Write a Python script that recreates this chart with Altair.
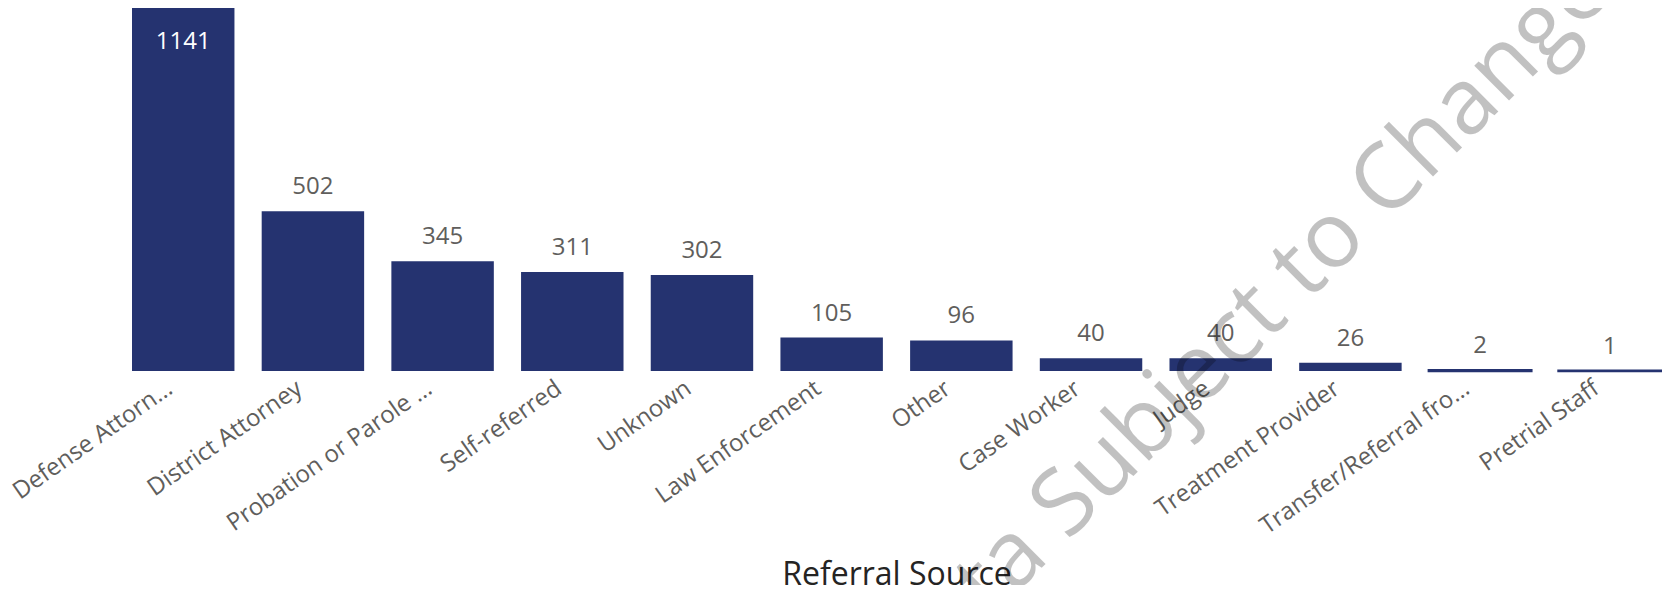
import altair as alt
import pandas as pd

# Data
sources = [
    "Defense Attorn…",
    "District Attorney",
    "Probation or Parole …",
    "Self-referred",
    "Unknown",
    "Law Enforcement",
    "Other",
    "Case Worker",
    "Judge",
    "Treatment Provider",
    "Transfer/Referral fro…",
    "Pretrial Staff",
]
counts = [1141, 502, 345, 311, 302, 105, 96, 40, 40, 26, 2, 1]
x_title = "Referral Source"
watermark_text = "Data Subject to Change"

df = pd.DataFrame({"source": sources, "count": counts})

FONT = "Open Sans"
BAR = "#253370"
GRAY = "#605E5C"

PLOT_W = 1529
PLOT_H = 363

x_enc = alt.X(
    "source:N",
    sort=None,
    title=x_title,
    scale=alt.Scale(paddingInner=0.21, paddingOuter=0),
    axis=alt.Axis(
        labelAngle=325,
        labelAlign="right",
        labelBaseline="top",
        labelFontSize=24,
        labelFont=FONT,
        labelColor=GRAY,
        labelPadding=5,
        labelOffset=-20,
        labelLimit=400,
        ticks=False,
        tickSize=0,
        domain=False,
        titleFont=FONT,
        titleFontSize=32,
        titleFontWeight="normal",
        titleColor="#252423",
        titleBaseline="alphabetic",
        titleY=213,
    ),
)
y_enc = alt.Y("count:Q", scale=alt.Scale(nice=False, zero=True), axis=None)

base = alt.Chart(df)

bars = base.mark_bar(color=BAR).encode(
    x=x_enc,
    y=y_enc,
    stroke=alt.value(BAR),
    strokeWidth=alt.condition("datum.count < 5", alt.value(2.5), alt.value(0)),
)

labels_out = (
    base.transform_joinaggregate(maxc="max(count)")
    .transform_filter("datum.count < datum.maxc")
    .mark_text(baseline="alphabetic", dy=-17, fontSize=24, font=FONT, color=GRAY)
    .encode(x=x_enc, y=y_enc, text="count:Q")
)

labels_in = (
    base.transform_joinaggregate(maxc="max(count)")
    .transform_filter("datum.count == datum.maxc")
    .mark_text(baseline="alphabetic", dy=41, fontSize=24, font=FONT, color="white")
    .encode(x=x_enc, y=y_enc, text="count:Q")
)

wm = (
    alt.Chart(pd.DataFrame({"t": [watermark_text]}))
    .mark_text(
        angle=315,
        fontSize=92,
        font=FONT,
        color="black",
        opacity=0.24,
        align="center",
        baseline="middle",
    )
    .encode(x=alt.value(1110), y=alt.value(320), text="t:N")
)

chart = (
    alt.layer(bars, labels_out, labels_in, wm)
    .properties(
        width=PLOT_W,
        height=PLOT_H,
        padding={"left": 124, "top": 0, "right": 1, "bottom": 214},
        autosize=alt.AutoSizeParams(type="none"),
    )
    .configure_view(stroke=None)
)

chart.save("out.html", embed_options={"renderer": "svg", "actions": False})
